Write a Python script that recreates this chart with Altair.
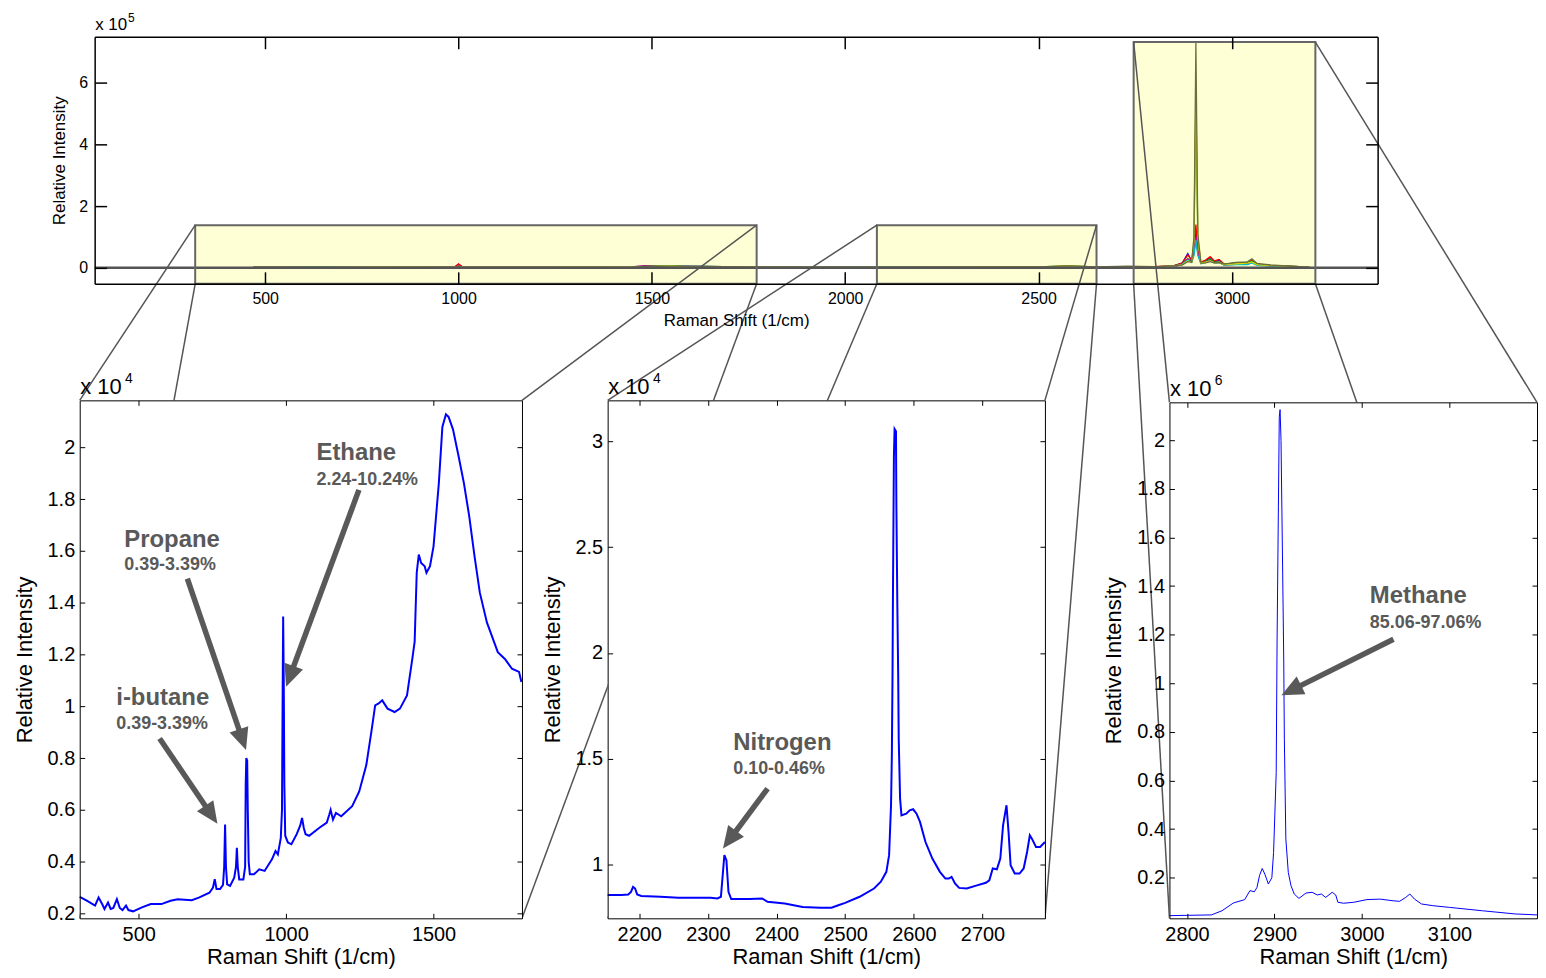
import math
import altair as alt
import pandas as pd

FONT = "Liberation Sans"
GRAY = "#595959"
BLUE = "#0000FF"
W, H = 1536, 961

# ---------------- overview panel (intensity x 10^5) ----------------
TOP_X = [470, 640, 800, 990, 1000, 1010, 1200, 1450, 1480, 1550, 1580, 1800, 2100, 2330, 2500, 2575, 2650,
         2730, 2800, 2850, 2872, 2886, 2896, 2902, 2907, 2912, 2920, 2932, 2944, 2955, 2967, 2980, 3010,
         3040, 3052, 3065, 3100, 3150, 3200]
TOP_BLUE = [0.02, 0.01, 0.02, 0.03, 0.11, 0.02, 0.01, 0.03, 0.06, 0.04, 0.05, 0.02, 0.01, 0.02, 0.03, 0.04,
            0.02, 0.03, 0.03, 0.06, 0.16, 0.46, 0.22, 0.55, 1.20, 0.50, 0.17, 0.22, 0.33, 0.20, 0.25, 0.10,
            0.13, 0.12, 0.22, 0.11, 0.07, 0.04, 0.02]
TOP_RED = [0.01, 0.02, 0.01, 0.02, 0.13, 0.03, 0.02, 0.04, 0.05, 0.06, 0.04, 0.01, 0.01, 0.03, 0.02, 0.05,
           0.03, 0.02, 0.04, 0.07, 0.15, 0.42, 0.25, 0.60, 1.40, 0.55, 0.18, 0.25, 0.36, 0.22, 0.27, 0.12,
           0.15, 0.14, 0.26, 0.12, 0.08, 0.05, 0.02]
TOP_GREEN = [0.02, 0.02, 0.03, 0.02, 0.05, 0.02, 0.02, 0.03, 0.04, 0.07, 0.05, 0.02, 0.02, 0.02, 0.03, 0.06,
             0.03, 0.04, 0.03, 0.05, 0.12, 0.30, 0.20, 0.80, 5.50, 0.90, 0.16, 0.20, 0.28, 0.18, 0.20, 0.12,
             0.16, 0.17, 0.22, 0.12, 0.08, 0.05, 0.02]
TOP_MAGENTA = [0.03, 0.02, 0.04, 0.02, 0.06, 0.02, 0.03, 0.02, 0.03, 0.04, 0.03, 0.02, 0.01, 0.02, 0.02, 0.03,
               0.02, 0.02, 0.02, 0.04, 0.10, 0.28, 0.18, 0.45, 1.00, 0.45, 0.14, 0.18, 0.24, 0.16, 0.18, 0.09,
               0.11, 0.11, 0.18, 0.09, 0.06, 0.03, 0.02]
TOP_CYAN = [0.01, 0.03, 0.02, 0.01, 0.04, 0.02, 0.02, 0.02, 0.04, 0.05, 0.04, 0.01, 0.02, 0.01, 0.02, 0.04,
            0.02, 0.03, 0.02, 0.05, 0.11, 0.25, 0.18, 0.40, 0.90, 0.40, 0.13, 0.17, 0.22, 0.15, 0.17, 0.09,
            0.10, 0.10, 0.16, 0.08, 0.05, 0.03, 0.02]
TOP_YELLOW = [0.02, 0.01, 0.03, 0.02, 0.04, 0.03, 0.02, 0.03, 0.03, 0.06, 0.04, 0.02, 0.01, 0.02, 0.03, 0.05,
              0.03, 0.03, 0.03, 0.05, 0.10, 0.22, 0.18, 0.90, 5.90, 1.00, 0.15, 0.18, 0.22, 0.16, 0.18, 0.10,
              0.13, 0.15, 0.19, 0.10, 0.07, 0.04, 0.02]
TOP_OLIVE = [0.02, 0.02, 0.02, 0.02, 0.05, 0.02, 0.02, 0.03, 0.04, 0.05, 0.05, 0.02, 0.02, 0.02, 0.03, 0.06,
             0.03, 0.05, 0.04, 0.06, 0.09, 0.20, 0.18, 1.00, 7.31, 1.10, 0.15, 0.16, 0.20, 0.16, 0.17, 0.12,
             0.17, 0.19, 0.29, 0.14, 0.09, 0.05, 0.02]
SERIES_NAMES = ["blue", "red", "green", "magenta", "cyan", "yellow", "olive"]
SERIES_COLORS = ["#0000FF", "#FF0000", "#00A000", "#CC00CC", "#00BFBF", "#D8D800", "#6E6E3C"]

RECT_X0 = [319, 2082, 2746]
RECT_X1 = [1771, 2650, 3216]
RECT_Y0 = [-0.52, -0.52, -0.52]
RECT_Y1 = [1.38, 1.38, 7.315]

TOP_XTICKS = [500, 1000, 1500, 2000, 2500, 3000]
TOP_YTICKS = [0, 2, 4, 6]
TOP_XDOM = [59, 3377]
TOP_YDOM = [-0.52, 7.486]

# ---------------- left zoom (x 10^4) ----------------
LEFT_X = [300, 324, 352, 364, 376, 384, 396, 405, 414, 426, 436, 445, 457, 465, 481, 511, 541, 577, 608, 632,
          680, 704, 740, 752, 758, 764, 776, 786, 790, 793, 796, 800, 810, 824, 830, 833, 836, 841, 855, 861,
          863, 865, 868, 870, 873, 877, 891, 909, 927, 952, 964, 972, 982, 986, 988, 990, 992, 994, 997, 1006,
          1018, 1036, 1048, 1054, 1060, 1066, 1078, 1114, 1138, 1146, 1151, 1159, 1169, 1187, 1224, 1248,
          1272, 1290, 1302, 1314, 1326, 1344, 1368, 1386, 1410, 1428, 1436, 1443, 1450, 1458, 1470, 1476,
          1488, 1500, 1518, 1530, 1542, 1551, 1566, 1585, 1603, 1621, 1639, 1657, 1681, 1718, 1742, 1766,
          1790, 1798]
LEFT_Y = [0.264, 0.249, 0.230, 0.261, 0.236, 0.217, 0.242, 0.217, 0.221, 0.255, 0.221, 0.213, 0.230, 0.213,
          0.208, 0.223, 0.236, 0.236, 0.249, 0.255, 0.251, 0.261, 0.280, 0.300, 0.332, 0.294, 0.294, 0.310,
          0.380, 0.543, 0.380, 0.312, 0.306, 0.338, 0.380, 0.453, 0.380, 0.331, 0.331, 0.380, 0.700, 0.800,
          0.790, 0.600, 0.400, 0.351, 0.351, 0.370, 0.364, 0.409, 0.441, 0.428, 0.492, 0.600, 1.000, 1.347,
          1.100, 0.700, 0.500, 0.474, 0.467, 0.506, 0.540, 0.569, 0.530, 0.506, 0.500, 0.532, 0.551, 0.580,
          0.600, 0.562, 0.588, 0.575, 0.614, 0.671, 0.773, 0.908, 1.004, 1.011, 1.023, 0.991, 0.978, 0.991,
          1.042, 1.183, 1.250, 1.516, 1.586, 1.554, 1.541, 1.516, 1.541, 1.618, 1.862, 2.079, 2.128, 2.118,
          2.070, 1.966, 1.862, 1.735, 1.580, 1.439, 1.324, 1.209, 1.183, 1.145, 1.133, 1.094]
LEFT_XTICKS = [500, 1000, 1500]
LEFT_YTICKS = [0.2, 0.4, 0.6, 0.8, 1.0, 1.2, 1.4, 1.6, 1.8, 2.0]
LEFT_XDOM = [300, 1800]
LEFT_YDOM = [0.181, 2.182]
LEFT_NAMES = ["Ethane", "Propane", "i-butane"]
LEFT_PCTS = ["2.24-10.24%", "0.39-3.39%", "0.39-3.39%"]
LEFT_LABEL_X = [1103, 451, 424]
LEFT_NAME_Y = [1.98, 1.644, 1.033]
LEFT_PCT_Y = [1.874, 1.544, 0.933]
LEFT_TAIL_X = [1247, 665, 571]
LEFT_TAIL_Y = [1.836, 1.493, 0.876]
LEFT_TIP_X = [1000, 864, 767]
LEFT_TIP_Y = [1.076, 0.831, 0.546]

# ---------------- middle zoom (x 10^4) ----------------
MID_X = [2154, 2174, 2184, 2188, 2191, 2194, 2197, 2203, 2231, 2257, 2283, 2304, 2314, 2319, 2322, 2324, 2327,
         2330, 2334, 2361, 2379, 2387, 2412, 2438, 2464, 2480, 2490, 2500, 2521, 2542, 2552, 2560, 2564,
         2566.8, 2568, 2569, 2569.5, 2570.5, 2571, 2572, 2574, 2574.6, 2576, 2577.2, 2578, 2580, 2582, 2589,
         2594, 2599, 2604, 2609, 2617, 2627, 2638, 2646, 2651, 2655, 2660, 2666, 2677, 2692, 2705, 2710,
         2715, 2721, 2726, 2730, 2735, 2738, 2741, 2747, 2754, 2760, 2765, 2769, 2772, 2778, 2784, 2791]
MID_Y = [0.854, 0.854, 0.857, 0.869, 0.893, 0.885, 0.857, 0.850, 0.846, 0.841, 0.841, 0.841, 0.838, 0.846,
         0.964, 1.043, 1.019, 0.869, 0.835, 0.835, 0.838, 0.822, 0.814, 0.798, 0.794, 0.794, 0.806, 0.817,
         0.846, 0.885, 0.917, 0.964, 1.043, 1.279, 1.515, 1.909, 2.224, 2.695, 2.93, 3.06, 3.049, 2.695,
         2.224, 1.909, 1.594, 1.31, 1.231, 1.239, 1.255, 1.26, 1.239, 1.2, 1.105, 1.027, 0.964, 0.932, 0.932,
         0.94, 0.909, 0.888, 0.885, 0.9, 0.912, 0.924, 0.98, 0.976, 1.027, 1.184, 1.279, 1.153, 0.995, 0.956,
         0.956, 0.98, 1.058, 1.137, 1.121, 1.082, 1.082, 1.105]
MID_XTICKS = [2200, 2300, 2400, 2500, 2600, 2700]
MID_YTICKS = [1, 1.5, 2, 2.5, 3]
MID_XDOM = [2154, 2791]
MID_YDOM = [0.744, 3.195]
MID_NAMES = ["Nitrogen"]
MID_PCTS = ["0.10-0.46%"]
MID_LABEL_X = [2337]
MID_NAME_Y = [1.575]
MID_PCT_Y = [1.452]
MID_TAIL_X = [2387]
MID_TAIL_Y = [1.358]
MID_TIP_X = [2322]
MID_TIP_Y = [1.074]

# ---------------- right zoom (x 10^6) ----------------
RIGHT_X = [2780, 2828, 2840, 2853, 2866, 2872, 2877, 2880, 2883, 2886, 2889, 2891, 2893, 2897, 2899, 2902,
           2903, 2904.5, 2905.5, 2906.4, 2907.5, 2909.4, 2910.6, 2911.3, 2913, 2915.8, 2918.9, 2922.6, 2928,
           2936, 2943, 2949, 2953.6, 2958.5, 2966, 2970, 2972.5, 2979, 2990.6, 3005.7, 3020.8, 3035.8, 3043,
           3050, 3054.7, 3060, 3068, 3081, 3100, 3137.7, 3175, 3200]
RIGHT_Y = [0.044, 0.047, 0.064, 0.096, 0.110, 0.147, 0.142, 0.160, 0.210, 0.238, 0.215, 0.195, 0.174, 0.200,
           0.304, 0.633, 1.178, 1.726, 2.096, 2.126, 2.000, 1.450, 1.096, 0.770, 0.360, 0.222, 0.167, 0.133,
           0.115, 0.137, 0.140, 0.129, 0.133, 0.119, 0.140, 0.129, 0.099, 0.095, 0.099, 0.110, 0.112, 0.105,
           0.103, 0.119, 0.133, 0.112, 0.092, 0.085, 0.078, 0.064, 0.051, 0.047]
RIGHT_XTICKS = [2800, 2900, 3000, 3100]
RIGHT_YTICKS = [0.2, 0.4, 0.6, 0.8, 1.0, 1.2, 1.4, 1.6, 1.8, 2.0]
RIGHT_XDOM = [2780, 3200]
RIGHT_YDOM = [0.033, 2.156]
RIGHT_NAMES = ["Methane"]
RIGHT_PCTS = ["85.06-97.06%"]
RIGHT_LABEL_X = [3009]
RIGHT_NAME_Y = [1.358]
RIGHT_PCT_Y = [1.247]
RIGHT_TAIL_X = [3036]
RIGHT_TAIL_Y = [1.181]
RIGHT_TIP_X = [2908]
RIGHT_TIP_Y = [0.951]

# ---------------- layout (plot boxes: left, right, top, bottom in px) ----------------
TOP_BOX = (87, 1375, 27, 275)
LEFT_BOX = (72, 516, 392, 912)
MID_BOX = (602, 1041, 392, 912)
RIGHT_BOX = (1166, 1535, 394, 912)

TOP_P = dict(box=TOP_BOX, xdom=TOP_XDOM, ydom=TOP_YDOM, xticks=TOP_XTICKS, yticks=TOP_YTICKS,
             lfs=16, tfs=17, lpadx=7, lpady=7, tpx=6, tpy=10, tick=12, lw=1.5,
             exp="5", efs=17, sfs=12, sx=33, sy=15, ey=7)
BOT_STYLE = dict(lfs=20, tfs=22, lpadx=6, lpady=5, tpx=2, tpy=11, tick=5, lw=1,
                 efs=22, sfs=14, sx=45, sy=18, ey=7)
LEFT_P = dict(box=LEFT_BOX, xdom=LEFT_XDOM, ydom=LEFT_YDOM, xticks=LEFT_XTICKS, yticks=LEFT_YTICKS,
              exp="4", **BOT_STYLE)
MID_P = dict(box=MID_BOX, xdom=MID_XDOM, ydom=MID_YDOM, xticks=MID_XTICKS, yticks=MID_YTICKS,
             exp="4", **BOT_STYLE)
RIGHT_P = dict(box=RIGHT_BOX, xdom=RIGHT_XDOM, ydom=RIGHT_YDOM, xticks=RIGHT_XTICKS, yticks=RIGHT_YTICKS,
               exp="6", **BOT_STYLE)

HEAD_LEN = 22
HEAD_PATH = "M0,0L-0.45,1L0.45,1Z"


def scales(p):
    L, R, T, B = p["box"]
    return (alt.Scale(domain=p["xdom"], range=[L, R], nice=False, zero=False),
            alt.Scale(domain=p["ydom"], range=[B, T], nice=False, zero=False))


def make_axes(p):
    L, R, T, B = p["box"]
    base = dict(grid=False, zindex=1, tickColor="black", domainColor="black", tickWidth=p["lw"],
                domainWidth=p["lw"], labelFont=FONT, titleFont=FONT, labelColor="black",
                titleColor="black", titleFontWeight="normal")
    xlab = alt.Axis(orient="bottom", offset=B - H, values=p["xticks"], format="d", ticks=False, domain=False,
                    labelPadding=p["lpadx"], labelFontSize=p["lfs"], labelFlush=False, labelOverlap=False,
                    title="Raman Shift (1/cm)", titleFontSize=p["tfs"], titlePadding=p["tpx"], **base)
    ylab = alt.Axis(orient="left", offset=-L, values=p["yticks"], format="~g", ticks=False, domain=False,
                    labelPadding=p["lpady"], labelFontSize=p["lfs"], labelFlush=False, labelOverlap=False,
                    title="Relative Intensity", titleFontSize=p["tfs"], titlePadding=p["tpy"], **base)
    xbot = alt.Axis(orient="top", offset=-B, values=p["xticks"], labels=False, tickSize=p["tick"],
                    title=None, **base)
    yleft = alt.Axis(orient="right", offset=L - W, values=p["yticks"], labels=False, tickSize=p["tick"],
                     title="x 10", titleAngle=0, titleX=0, titleY=T - p["ey"], titleAlign="left",
                     titleBaseline="alphabetic", titleFontSize=p["efs"], **base)
    xtop = alt.Axis(orient="bottom", offset=T - H, values=p["xticks"], labels=False, tickSize=p["tick"],
                    title=None, **base)
    yright = alt.Axis(orient="left", offset=-R, values=p["yticks"], labels=False, tickSize=p["tick"],
                      title=p["exp"], titleAngle=0, titleX=L + p["sx"] - R, titleY=T - p["sy"],
                      titleAlign="left", titleBaseline="alphabetic", titleFontSize=p["sfs"], **base)
    return xlab, ylab, xbot, yleft, xtop, yright


def arrow_table(p, tx, ty, hx, hy):
    L, R, T, B = p["box"]
    kx = (R - L) / (p["xdom"][1] - p["xdom"][0])
    ky = (B - T) / (p["ydom"][1] - p["ydom"][0])
    rows = []
    for x0, y0, x1, y1 in zip(tx, ty, hx, hy):
        dx = (x1 - x0) * kx
        dy = -(y1 - y0) * ky
        d = math.hypot(dx, dy)
        ux, uy = dx / d, dy / d
        ang = math.degrees(math.atan2(dx, -dy)) % 360
        back = HEAD_LEN * 0.8
        rows.append(dict(x=x0, y=y0, x2=x1 - ux * back / kx, y2=y1 + uy * back / ky,
                         hx=x1, hy=y1, angle=ang))
    return pd.DataFrame(rows)


def bottom_panel(p, xs_, ys_, names, pcts, lx, ny, py, tx, ty, hx, hy, line_w):
    xsc, ysc = scales(p)
    xlab, ylab, xbot, yleft, xtop, yright = make_axes(p)
    bg_df = pd.DataFrame({"x": [p["xdom"][0]], "x2": [p["xdom"][1]],
                          "y": [p["ydom"][0]], "y2": [p["ydom"][1]]})
    bg = alt.Chart(bg_df).mark_rect(fill="white", strokeOpacity=0).encode(
        x=alt.X("x:Q", scale=xsc, axis=xlab), x2="x2:Q",
        y=alt.Y("y:Q", scale=ysc, axis=ylab), y2="y2:Q")
    line = alt.Chart(pd.DataFrame({"x": xs_, "y": ys_})).mark_line(color=BLUE, strokeWidth=line_w).encode(
        x=alt.X("x:Q", scale=xsc, axis=xbot), y=alt.Y("y:Q", scale=ysc, axis=yleft))
    name_txt = alt.Chart(pd.DataFrame({"x": lx, "y": ny, "t": names})).mark_text(
        align="left", baseline="middle", font=FONT, fontSize=24, fontWeight="bold", color=GRAY).encode(
        x=alt.X("x:Q", scale=xsc, axis=xtop), y=alt.Y("y:Q", scale=ysc, axis=yright), text="t:N")
    pct_txt = alt.Chart(pd.DataFrame({"x": lx, "y": py, "t": pcts})).mark_text(
        align="left", baseline="middle", font=FONT, fontSize=18, fontWeight="bold", color=GRAY).encode(
        x=alt.X("x:Q", scale=xsc, axis=None), y=alt.Y("y:Q", scale=ysc, axis=None), text="t:N")
    arr = arrow_table(p, tx, ty, hx, hy)
    shafts = alt.Chart(arr).mark_rule(color=GRAY, strokeWidth=5.5).encode(
        x=alt.X("x:Q", scale=xsc, axis=None), x2="x2:Q",
        y=alt.Y("y:Q", scale=ysc, axis=None), y2="y2:Q")
    heads = alt.Chart(arr).mark_point(shape=HEAD_PATH, filled=True, size=(2 * HEAD_LEN) ** 2, color=GRAY,
                                      opacity=1, strokeWidth=0).encode(
        x=alt.X("hx:Q", scale=xsc, axis=None), y=alt.Y("hy:Q", scale=ysc, axis=None),
        angle=alt.Angle("angle:Q", scale=None))
    return alt.layer(bg, line, name_txt, pct_txt, shafts, heads).resolve_axis(x="independent", y="independent")


def top_panel():
    p = TOP_P
    L, R, T, B = p["box"]
    xsc, ysc = scales(p)
    xlab, ylab, xbot, yleft, xtop, yright = make_axes(p)
    rect_df = pd.DataFrame({"x": RECT_X0, "x2": RECT_X1, "y": RECT_Y0, "y2": RECT_Y1})
    fills = alt.Chart(rect_df).mark_rect(fill="#FFFFD5", strokeOpacity=0).encode(
        x=alt.X("x:Q", scale=xsc, axis=xlab), x2="x2:Q",
        y=alt.Y("y:Q", scale=ysc, axis=ylab), y2="y2:Q")
    rows = []
    for name, vals in zip(SERIES_NAMES, [TOP_BLUE, TOP_RED, TOP_GREEN, TOP_MAGENTA, TOP_CYAN, TOP_YELLOW,
                                         TOP_OLIVE]):
        for x, v in zip(TOP_X, vals):
            rows.append({"x": x, "y": v, "s": name})
    spectra = alt.Chart(pd.DataFrame(rows)).mark_line(strokeWidth=1.3).encode(
        x=alt.X("x:Q", scale=xsc, axis=xbot), y=alt.Y("y:Q", scale=ysc, axis=yleft),
        color=alt.Color("s:N", scale=alt.Scale(domain=SERIES_NAMES, range=SERIES_COLORS), legend=None))
    zero_df = pd.DataFrame({"x": [p["xdom"][0]], "x2": [p["xdom"][1]], "y": [0]})
    zero = alt.Chart(zero_df).mark_rule(color="#555555", strokeWidth=2.5).encode(
        x=alt.X("x:Q", scale=xsc, axis=xtop), x2="x2:Q", y=alt.Y("y:Q", scale=ysc, axis=yright))
    borders = alt.Chart(rect_df).mark_rect(fillOpacity=0, stroke="#666666", strokeWidth=2).encode(
        x=alt.X("x:Q", scale=xsc, axis=None), x2="x2:Q",
        y=alt.Y("y:Q", scale=ysc, axis=None), y2="y2:Q")

    # zoom connector lines: rectangle corners -> corners of the zoom panels
    def to_data(px, py):
        return (p["xdom"][0] + (px - L) / (R - L) * (p["xdom"][1] - p["xdom"][0]),
                p["ydom"][0] + (B - py) / (B - T) * (p["ydom"][1] - p["ydom"][0]))

    crow = []
    for i, box in enumerate([LEFT_BOX, MID_BOX, RIGHT_BOX]):
        bl, br, bt, bb = box
        for rx, ry, qx, qy in [(RECT_X0[i], RECT_Y1[i], bl, bt), (RECT_X0[i], RECT_Y0[i], bl, bb),
                               (RECT_X1[i], RECT_Y1[i], br, bt), (RECT_X1[i], RECT_Y0[i], br, bb)]:
            cx, cy = to_data(qx, qy)
            crow.append({"x": rx, "y": ry, "x2": cx, "y2": cy})
    conn = alt.Chart(pd.DataFrame(crow)).mark_rule(color="#555555", strokeWidth=1.5).encode(
        x=alt.X("x:Q", scale=xsc, axis=None), x2="x2:Q",
        y=alt.Y("y:Q", scale=ysc, axis=None), y2="y2:Q")
    return alt.layer(fills, spectra, zero, borders, conn).resolve_axis(x="independent", y="independent")


chart = alt.layer(
    top_panel(),
    bottom_panel(LEFT_P, LEFT_X, LEFT_Y, LEFT_NAMES, LEFT_PCTS, LEFT_LABEL_X, LEFT_NAME_Y, LEFT_PCT_Y,
                 LEFT_TAIL_X, LEFT_TAIL_Y, LEFT_TIP_X, LEFT_TIP_Y, 2),
    bottom_panel(MID_P, MID_X, MID_Y, MID_NAMES, MID_PCTS, MID_LABEL_X, MID_NAME_Y, MID_PCT_Y,
                 MID_TAIL_X, MID_TAIL_Y, MID_TIP_X, MID_TIP_Y, 2),
    bottom_panel(RIGHT_P, RIGHT_X, RIGHT_Y, RIGHT_NAMES, RIGHT_PCTS, RIGHT_LABEL_X, RIGHT_NAME_Y, RIGHT_PCT_Y,
                 RIGHT_TAIL_X, RIGHT_TAIL_Y, RIGHT_TIP_X, RIGHT_TIP_Y, 1),
).resolve_scale(x="independent", y="independent").properties(
    width=W, height=H, autosize=alt.AutoSizeParams(type="none"), padding=0
).configure_view(strokeOpacity=0)

chart.save("out.html", embed_options={"renderer": "svg", "actions": False})
